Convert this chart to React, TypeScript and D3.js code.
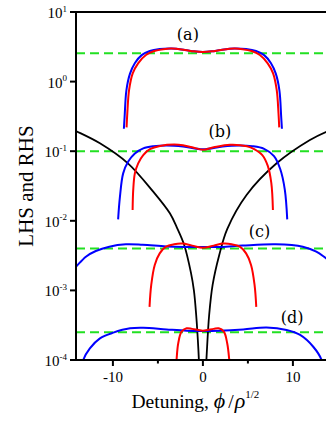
import React from 'react';
import * as d3 from 'd3';

type P = [number, number];

const xTicks = [-10, 0, 10];
const xMinorTicks = [-5, 5];
const yTickExps = [-4, -3, -2, -1, 0, 1];
const greenLevels = [2.55, 0.1, 0.004, 0.00025];

const blackLeft: P[] = [
  [-14.6, 0.21], [-14.1, 0.195], [-11.44, 0.13], [-8.33, 0.067], [-5.52, 0.0262],
  [-3.67, 0.0128], [-2.89, 0.008], [-2.08, 0.0045], [-1.33, 0.0018], [-1.0, 0.001],
  [-0.75, 0.00045], [-0.5, 0.00014], [-0.38, 0.00006],
];
const blackRight: P[] = [
  [0.3, 0.00006], [0.42, 0.00012], [0.7, 0.00045], [1.08, 0.0012], [1.81, 0.0032],
  [2.7, 0.0076], [4.85, 0.0235], [8.19, 0.067], [11.89, 0.145], [13.67, 0.189], [14.6, 0.21],
];

const aBlue: P[] = [
  [-8.78, 0.21], [-8.7, 0.31], [-8.5, 0.75], [-8.1, 1.3], [-7.55, 1.85], [-6.8, 2.4],
  [-5.9, 2.75], [-4.8, 2.93], [-3.5, 2.98], [-2, 2.85], [-1, 2.72], [0, 2.66], [1, 2.72],
  [2, 2.85], [3.5, 2.98], [4.8, 2.93], [5.9, 2.75], [6.8, 2.4], [7.55, 1.85], [8.1, 1.3],
  [8.5, 0.75], [8.7, 0.31], [8.78, 0.21],
];
const aRed: P[] = [
  [-8.48, 0.22], [-8.4, 0.35], [-8.2, 0.76], [-7.8, 1.31], [-7.2, 1.83], [-6.33, 2.41],
  [-5.4, 2.75], [-4.4, 2.92], [-3.5, 2.98], [-2, 2.85], [-1, 2.72], [0, 2.66], [1, 2.72],
  [2, 2.85], [3.5, 2.98], [4.4, 2.92], [5.4, 2.75], [6.33, 2.41], [7.2, 1.83], [7.8, 1.31],
  [8.2, 0.76], [8.4, 0.35], [8.48, 0.22],
];

const bBlue: P[] = [
  [-9.42, 0.0105], [-9.22, 0.022], [-8.86, 0.048], [-8.3, 0.071], [-7.56, 0.093],
  [-6.63, 0.11], [-5.5, 0.118], [-4, 0.121], [-2.2, 0.117], [0, 0.107], [2.2, 0.117],
  [4, 0.121], [5.5, 0.118], [6.8, 0.108], [7.9, 0.085], [8.6, 0.055], [9.1, 0.028],
  [9.37, 0.0105],
];
const bRed: P[] = [
  [-7.81, 0.0143], [-7.74, 0.028], [-7.56, 0.048], [-7.19, 0.067], [-6.63, 0.088],
  [-5.89, 0.107], [-4.78, 0.119], [-2.7, 0.124], [-1.2, 0.114], [0, 0.105], [1.2, 0.114],
  [3.0, 0.124], [4.9, 0.118], [5.7, 0.107], [6.6, 0.088], [7.2, 0.062], [7.6, 0.035],
  [7.78, 0.0143],
];

const cBlue: P[] = [
  [-14.6, 0.0019], [-14.1, 0.00219], [-13, 0.00305], [-11.9, 0.00368], [-10.4, 0.00425],
  [-8.56, 0.00459], [-6.7, 0.00452], [-4.1, 0.00428], [-2, 0.0042], [0, 0.0042],
  [2, 0.0042], [4.4, 0.0044], [8.1, 0.0046], [11.1, 0.00425], [12.6, 0.0036],
  [13.7, 0.00289], [14.6, 0.0024],
];
const cRed: P[] = [
  [-5.93, 0.00058], [-5.74, 0.0012], [-5.35, 0.00232], [-4.8, 0.0034], [-4.1, 0.00425],
  [-3.2, 0.0046], [-2.3, 0.0047], [-1.2, 0.0044], [0, 0.0041], [1.2, 0.0044], [2.3, 0.0047],
  [3.2, 0.0046], [4.1, 0.00425], [4.8, 0.0034], [5.35, 0.00232], [5.74, 0.0012],
  [5.93, 0.00058],
];

const dBlue: P[] = [
  [-13.5, 0.00007], [-13.3, 0.0001], [-12.56, 0.000147], [-11.44, 0.000205],
  [-9.96, 0.000247], [-8.1, 0.000285], [-6.63, 0.00029], [-4.04, 0.000275],
  [-1.8, 0.000264], [0, 0.000262], [1.8, 0.000264], [4.48, 0.000275], [7.07, 0.000293],
  [9.3, 0.00027], [10.8, 0.000229], [12.26, 0.000155], [13.19, 0.0001], [13.4, 0.00007],
];
const dRed: P[] = [
  [-3.05, 0.00006], [-2.93, 0.0001], [-2.74, 0.000174], [-2.37, 0.000255],
  [-1.81, 0.000285], [-1.2, 0.00028], [0, 0.000264], [1.2, 0.00028], [1.75, 0.000285],
  [2.33, 0.000255], [2.7, 0.000174], [2.93, 0.0001], [3.05, 0.00006],
];

const panelLabels = [
  { text: '(a)', x: -1.67, y: 3.96 },
  { text: '(b)', x: 1.89, y: 0.16 },
  { text: '(c)', x: 6.3, y: 0.00585 },
  { text: '(d)', x: 9.92, y: 0.000343 },
];

const blueSeries = [aBlue, bBlue, cBlue, dBlue];
const redSeries = [aRed, bRed, cRed, dRed];
const blackSeries = [blackLeft, blackRight];

export default function App() {
  const x = d3.scaleLinear().domain([-14.1, 14.1]).range([76, 329.8]);
  const y = d3.scaleLog().domain([1e-4, 10]).range([360, 12]);
  const [x0, x1] = x.range();
  const [yb, yt] = y.range();
  const line = d3
    .line<P>()
    .x((d) => x(d[0]))
    .y((d) => y(d[1]))
    .curve(d3.curveCatmullRom.alpha(0.5));

  const serif = "'Liberation Serif', 'Times New Roman', serif";

  return (
    <svg
      width={326}
      height={424}
      style={{ position: 'absolute', left: 0, top: 0, background: '#fff' }}
    >
      <defs>
        <clipPath id="plot">
          <rect x={x0} y={yt} width={x1 - x0} height={yb - yt} />
        </clipPath>
      </defs>
      <g clipPath="url(#plot)" fill="none">
        {greenLevels.map((v, i) => (
          <line
            key={'g' + i}
            x1={x0}
            x2={x1}
            y1={y(v)}
            y2={y(v)}
            stroke="#22e022"
            strokeWidth={2}
            strokeDasharray="9 5"
          />
        ))}
        {blackSeries.map((s, i) => (
          <path key={'k' + i} d={line(s) || ''} stroke="#000" strokeWidth={1.8} />
        ))}
        {blueSeries.map((s, i) => (
          <path key={'b' + i} d={line(s) || ''} stroke="#0000ff" strokeWidth={2} />
        ))}
        {redSeries.map((s, i) => (
          <path key={'r' + i} d={line(s) || ''} stroke="#ff0000" strokeWidth={2} />
        ))}
      </g>
      {/* axes frame */}
      <g stroke="#000" strokeWidth={2} fill="none">
        <line x1={x0} x2={x0} y1={yt - 1} y2={yb + 1} />
        <line x1={x0 - 1} x2={x1} y1={yt} y2={yt} />
        <line x1={x0 - 1} x2={x1} y1={yb} y2={yb} />
        <line x1={x1} x2={x1} y1={yt} y2={yb} />
      </g>
      {/* x ticks */}
      {xTicks.map((t) => (
        <g key={'xt' + t}>
          <line x1={x(t)} x2={x(t)} y1={yb} y2={yb + 6} stroke="#000" strokeWidth={2} />
          <text
            x={x(t)}
            y={382}
            textAnchor="middle"
            fontFamily={serif}
            fontSize={15}
            fill="#000"
          >
            {t < 0 ? '-' + Math.abs(t) : String(t)}
          </text>
        </g>
      ))}
      {xMinorTicks.map((t) => (
        <line
          key={'xm' + t}
          x1={x(t)}
          x2={x(t)}
          y1={yb}
          y2={yb + 3.5}
          stroke="#000"
          strokeWidth={2}
        />
      ))}
      {/* y ticks */}
      {yTickExps.map((e) => {
        const v = Math.pow(10, e);
        const yy = y(v);
        return (
          <g key={'yt' + e}>
            <line x1={x0 - 6} x2={x0} y1={yy} y2={yy} stroke="#000" strokeWidth={2} />
            <text
              x={67}
              y={yy + 6}
              textAnchor="end"
              fontFamily={serif}
              fontSize={15}
              fill="#000"
            >
              10
              <tspan fontSize={9} dy={-6.5}>
                {e < 0 ? '-' + Math.abs(e) : String(e)}
              </tspan>
            </text>
          </g>
        );
      })}
      {/* panel labels */}
      {panelLabels.map((l) => (
        <text
          key={l.text}
          x={x(l.x)}
          y={y(l.y)}
          textAnchor="middle"
          fontFamily="'DejaVu Serif', serif"
          fontSize={16}
          fill="#000"
        >
          {l.text}
        </text>
      ))}
      {/* axis titles */}
      <text
        transform={`translate(33, ${(yt + yb) / 2}) rotate(-90)`}
        textAnchor="middle"
        fontFamily={serif}
        fontSize={21}
        fill="#000"
      >
        LHS and RHS
      </text>
      <text x={131.5} y={408} fontFamily={serif} fontSize={19.5} fill="#000">
        Detuning,{' '}
        <tspan fontStyle="italic" fontSize={22}>
          ϕ
        </tspan>
        <tspan dx={3}>/</tspan>
        <tspan dx={1} fontStyle="italic" fontSize={22}>
          ρ
        </tspan>
        <tspan fontSize={11} dy={-10}>
          1/2
        </tspan>
      </text>
    </svg>
  );
}
